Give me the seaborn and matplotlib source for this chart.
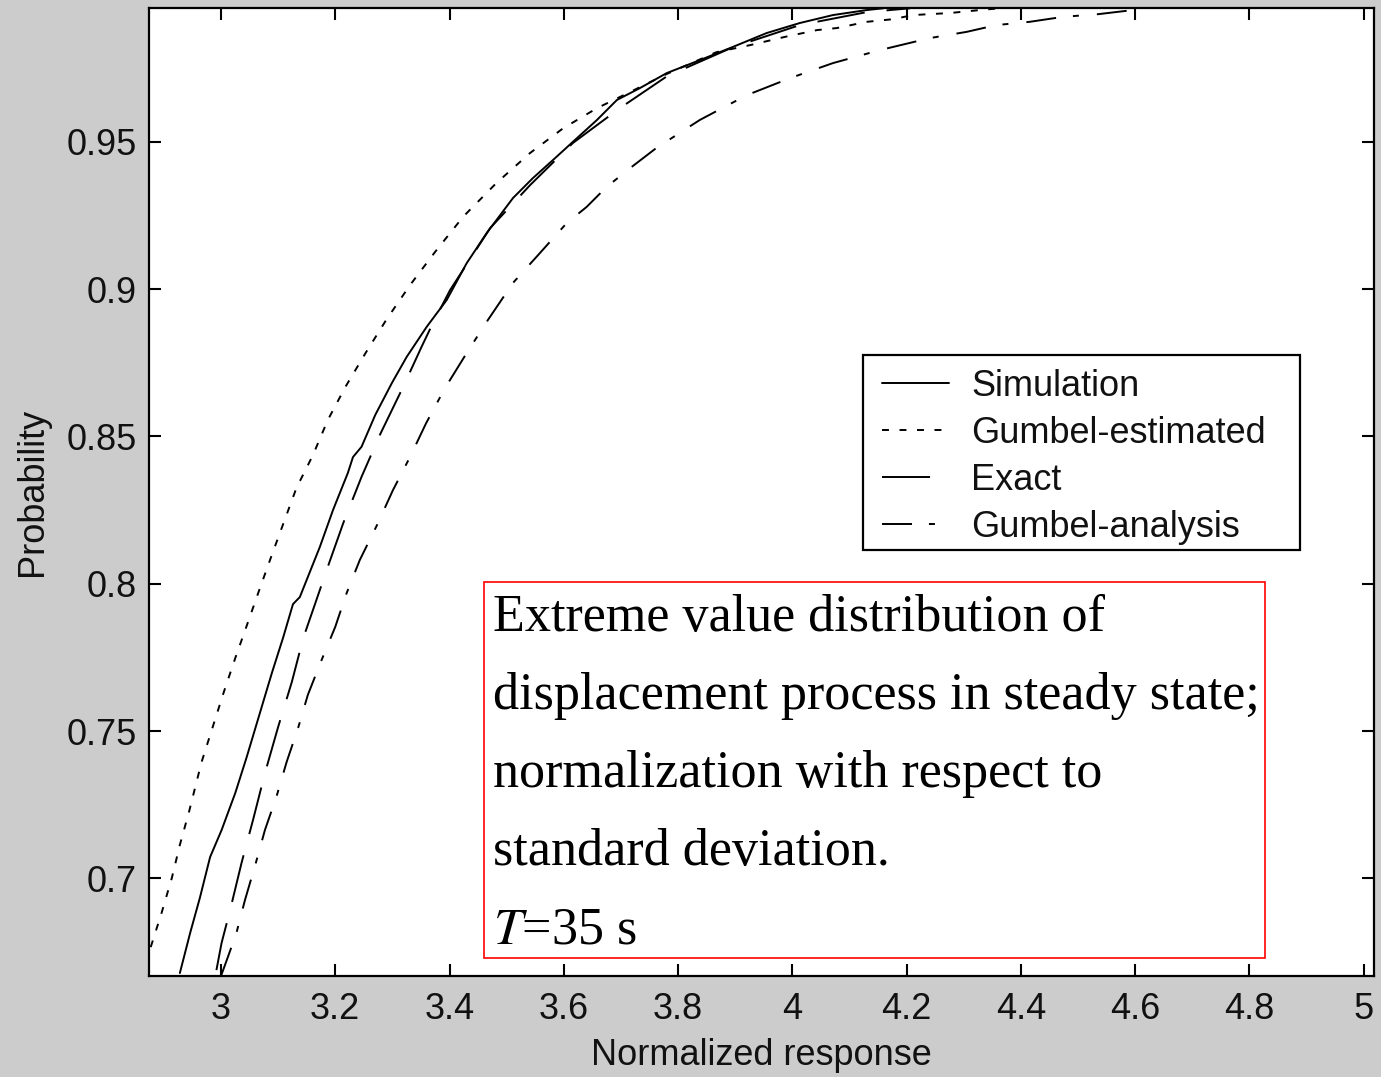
import matplotlib
matplotlib.use("Agg")
import matplotlib.pyplot as plt
from matplotlib.lines import Line2D
from matplotlib.patches import Rectangle
import seaborn as sns
import pandas as pd

# ---- data: cumulative probability of the normalized extreme response ----
series_names = ["Simulation", "Gumbel-estimated", "Exact", "Gumbel-analysis"]

sim_x = [2.928, 2.946, 2.963, 2.981, 3.001, 3.025, 3.045, 3.068, 3.089, 3.109,
         3.126, 3.138, 3.159, 3.173, 3.196, 3.222, 3.231, 3.246, 3.270, 3.299,
         3.325, 3.360, 3.395, 3.430, 3.465, 3.511, 3.546, 3.581, 3.616, 3.658,
         3.693, 3.733, 3.780, 3.838, 3.896, 3.955, 4.013, 4.071, 4.130, 4.159]
sim_p = [0.6679, 0.6815, 0.6934, 0.7073, 0.7164, 0.7290, 0.7412, 0.7561, 0.7697, 0.7819,
         0.7931, 0.7955, 0.8057, 0.8125, 0.8250, 0.8376, 0.8430, 0.8465, 0.8573, 0.8681,
         0.8770, 0.8872, 0.8963, 0.9088, 0.9190, 0.9309, 0.9377, 0.9438, 0.9500, 0.9574,
         0.9642, 0.9682, 0.9733, 0.9777, 0.9822, 0.9869, 0.9903, 0.9930, 0.9947, 0.9953]

est_x = [2.877, 2.896, 2.914, 2.928, 2.944, 2.966, 2.986, 3.005, 3.025, 3.046,
         3.067, 3.089, 3.110, 3.132, 3.161, 3.187, 3.218, 3.253, 3.290, 3.331,
         3.375, 3.424, 3.482, 3.541, 3.599, 3.658, 3.716, 3.780, 3.867, 3.926,
         3.987, 4.043, 4.078, 4.130, 4.176, 4.211, 4.276, 4.328, 4.363]
est_p = [0.6767, 0.6883, 0.7002, 0.7114, 0.7226, 0.7395, 0.7517, 0.7633, 0.7748, 0.7863,
         0.7979, 0.8098, 0.8209, 0.8325, 0.8437, 0.8556, 0.8669, 0.8783, 0.8898, 0.9014,
         0.9127, 0.9246, 0.9360, 0.9462, 0.9546, 0.9614, 0.9669, 0.9730, 0.9804, 0.9828,
         0.9856, 0.9879, 0.9886, 0.9907, 0.9916, 0.9930, 0.9937, 0.9947, 0.9953]

exact_x = [2.992, 3.001, 3.016, 3.036, 3.056, 3.077, 3.100, 3.124, 3.144, 3.167,
           3.185, 3.214, 3.246, 3.278, 3.319, 3.351, 3.371, 3.401, 3.471, 3.541,
           3.616, 3.698, 3.781, 3.896, 4.013, 4.130, 4.206]
exact_p = [0.6689, 0.6781, 0.6893, 0.7053, 0.7198, 0.7358, 0.7514, 0.7667, 0.7816, 0.7945,
           0.8047, 0.8206, 0.8363, 0.8505, 0.8669, 0.8804, 0.8885, 0.8997, 0.9207, 0.9353,
           0.9496, 0.9614, 0.9723, 0.9821, 0.9896, 0.9940, 0.9953]

anal_x = [3.000, 3.012, 3.027, 3.042, 3.060, 3.077, 3.097, 3.115, 3.135, 3.152,
          3.176, 3.200, 3.220, 3.243, 3.273, 3.301, 3.331, 3.359, 3.392, 3.430,
          3.465, 3.511, 3.558, 3.605, 3.640, 3.675, 3.719, 3.762, 3.838, 3.920,
          3.996, 4.071, 4.153, 4.241, 4.305, 4.357, 4.415, 4.474, 4.535, 4.596]
anal_p = [0.6669, 0.6733, 0.6815, 0.6927, 0.7046, 0.7165, 0.7277, 0.7396, 0.7511, 0.7623,
          0.7741, 0.7854, 0.7969, 0.8081, 0.8199, 0.8318, 0.8431, 0.8545, 0.8664, 0.8783,
          0.8889, 0.9021, 0.9122, 0.9224, 0.9279, 0.9347, 0.9415, 0.9479, 0.9574, 0.9658,
          0.9716, 0.9767, 0.9811, 0.9852, 0.9873, 0.9896, 0.9907, 0.9924, 0.9933, 0.9947]

x_ticks = [3.0, 3.2, 3.4, 3.6, 3.8, 4.0, 4.2, 4.4, 4.6, 4.8, 5.0]
x_tick_labels = ["3", "3.2", "3.4", "3.6", "3.8", "4", "4.2", "4.4", "4.6", "4.8", "5"]
y_ticks = [0.70, 0.75, 0.80, 0.85, 0.90, 0.95]
y_tick_labels = ["0.7", "0.75", "0.8", "0.85", "0.9", "0.95"]

note_lines = ["Extreme value distribution of",
              "displacement process in steady state;",
              "normalization with respect to",
              "standard deviation.",
              "$T$=35 s"]

# ---- long-form table for seaborn ----
frames = []
for name, xs, ps in zip(series_names,
                        [sim_x, est_x, exact_x, anal_x],
                        [sim_p, est_p, exact_p, anal_p]):
    frames.append(pd.DataFrame({"response": xs, "probability": ps, "series": name}))
df = pd.concat(frames, ignore_index=True)

# ---- style ----
sns.set_theme(style="ticks")
plt.rcParams.update({
    "font.family": ["Liberation Sans", "DejaVu Sans"],
    "mathtext.fontset": "stix",
    "lines.scale_dashes": False,
    "axes.edgecolor": "black",
    "axes.linewidth": 1.6,
})

# dash patterns in points
dash_map = {
    "Simulation": "",
    "Gumbel-estimated": (5.0, 7.6),
    "Exact": (34.6, 15.8),
    "Gumbel-analysis": (21.6, 12.2, 4.3, 13.0),
}
line_w = 1.4

W, H = 1381, 1077
fig = plt.figure(figsize=(W / 100, H / 100), dpi=100, facecolor="#cccccc")
ax = fig.add_axes([149 / W, 1 - 976 / H, (1374 - 149) / W, (976 - 8) / H])
ax.set_facecolor("white")

sns.lineplot(data=df, x="response", y="probability", style="series",
             style_order=series_names, dashes=dash_map, color="black",
             linewidth=line_w, sort=False, estimator=None, legend=False, ax=ax)

ax.set_xlim(2.874, 5.018)
ax.set_ylim(0.6669, 0.9954)
ax.set_xticks(x_ticks)
ax.set_xticklabels(x_tick_labels)
ax.set_yticks(y_ticks)
ax.set_yticklabels(y_tick_labels)
for s in ax.spines.values():
    s.set_visible(True)
    s.set_linewidth(1.6)
    s.set_color("black")
ax.tick_params(axis="both", which="major", direction="in", length=8.5, width=1.5,
               top=True, right=True, labelsize=26, colors="black",
               labelcolor="#111111")
ax.tick_params(axis="x", pad=11.5)
ax.tick_params(axis="y", pad=9)

ax.set_xlabel("Normalized response", fontsize=26, color="#111111", labelpad=8)
ax.set_ylabel("Probability", fontsize=26, color="#111111", labelpad=12)

# legend: entries without matplotlib's frame, boxed by a separate rectangle
handles = [Line2D([], [], color="black", linewidth=line_w, dashes=dash_map[n])
           for n in series_names]
leg = ax.legend(handles, series_names, loc="upper left",
                bbox_to_anchor=(882 / W, 1 - 369 / H), bbox_transform=fig.transFigure,
                borderaxespad=0, borderpad=0, frameon=False, fontsize=26,
                handlelength=1.85, handletextpad=0.62, labelspacing=0.33)
leg.set_zorder(6)
for t in leg.get_texts():
    t.set_color("#111111")
leg_box = Rectangle((863 / W, 1 - 550 / H), (1300 - 863) / W, (550 - 355) / H,
                    transform=fig.transFigure, facecolor="white", edgecolor="black",
                    linewidth=1.6, zorder=5)
fig.patches.append(leg_box)
# keep the legend above its box
leg.remove()
fig.legends.append(leg)
leg.set_figure(fig)

# annotation box
box = Rectangle((484 / W, 1 - 958 / H), (1265 - 484) / W, (958 - 582) / H,
                transform=fig.transFigure, facecolor="white", edgecolor="#ff0000",
                linewidth=1.2, zorder=5)
fig.patches.append(box)
baselines = [631, 709, 787, 865, 943]
for line, b in zip(note_lines, baselines):
    fig.text(493 / W, 1 - b / H, line, fontsize=37.5, family="Liberation Serif",
             ha="left", va="baseline", color="black", zorder=6)

fig.savefig("out.png", dpi=100, facecolor=fig.get_facecolor())
